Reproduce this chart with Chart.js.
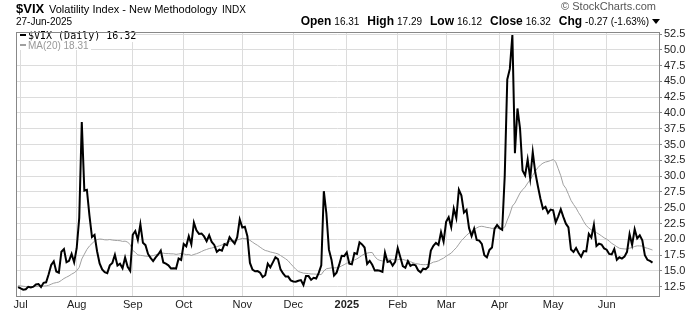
<!DOCTYPE html>
<html>
<head>
<meta charset="utf-8">
<script src="https://cdn.jsdelivr.net/npm/chart.js@4.4.1/dist/chart.umd.min.js"></script>
<style>
  body { margin: 0; background: #fff; }
  canvas { display: block; }
</style>
</head>
<body>
<canvas id="Chart1" width="700" height="312"></canvas>
<script>
// daily closes, Jun 28 2024 .. Jun 27 2025
const closes = [
    12.44,
    // Jul
    12.22, 12.03, 12.09, 12.48, 12.37, 12.51, 12.85, 12.91, 12.46, 13.12, 13.19,
    14.48, 15.93, 16.52, 14.91, 14.72, 18.04, 18.46, 16.39, 16.60, 17.69, 16.36,
    // Aug
    18.59, 23.39, 38.57, 27.71, 27.85, 23.79, 20.37, 20.71, 18.12, 16.19, 15.23,
    14.80, 14.65, 15.88, 16.27, 17.55, 15.86, 16.15, 15.43, 17.11, 15.65, 15.00,
    // Sep
    20.72, 21.32, 19.90, 22.38, 19.45, 19.08, 17.69, 17.07, 16.56, 17.14,
    17.61, 18.23, 16.33, 16.15, 15.89, 15.39, 15.41, 15.37, 16.96, 16.73,
    // Oct
    19.26, 18.90, 20.49, 19.21, 22.64, 21.42, 20.86, 20.93, 20.46, 19.70, 20.64, 19.58,
    19.11, 18.03, 18.37, 18.20, 19.24, 19.08, 20.33, 19.80, 19.34, 20.35, 23.16,
    // Nov
    21.88, 21.98, 20.49, 16.27, 15.20, 14.94, 14.97, 14.71, 14.02, 14.31,
    16.14, 15.58, 16.35, 17.16, 16.87, 15.24, 14.60, 14.10, 14.10, 13.51,
    // Dec
    13.34, 13.30, 13.45, 13.54, 12.77, 14.19, 14.18, 13.58, 13.92, 13.81, 14.69,
    15.87, 27.62, 24.09, 18.36, 16.78, 14.27, 14.73, 15.95, 17.40, 17.35,
    // Jan 2025
    17.93, 16.13, 16.04, 17.82, 17.70, 19.54, 19.19, 18.71, 16.12, 16.60,
    15.97, 15.06, 15.10, 15.02, 14.85, 17.90, 16.41, 16.56, 15.84, 16.43,
    // Feb
    18.62, 17.21, 15.77, 15.50, 16.54, 15.81, 16.02, 15.89, 15.10, 14.77,
    15.35, 15.27, 15.66, 18.21, 18.98, 19.43, 19.10, 21.13, 19.63,
    // Mar
    22.78, 23.51, 21.93, 24.87, 23.37, 27.86, 26.92, 24.23, 24.66, 21.77, 20.51,
    21.70, 19.90, 19.80, 19.28, 17.48, 17.15, 18.33, 18.69, 21.65, 22.28,
    // Apr
    21.77, 21.51, 30.02, 45.31, 46.98, 52.33, 33.62, 40.72, 37.56, 30.89, 30.12,
    32.64, 29.65, 33.82, 30.57, 28.45, 26.47, 24.84, 25.15, 24.17, 24.70,
    // May
    24.60, 22.68, 23.64, 24.76, 23.55, 22.48, 21.90, 18.39, 17.99, 18.62, 17.83,
    17.24, 18.14, 18.09, 20.87, 20.28, 22.29, 18.96, 19.31, 19.18, 18.57,
    // Jun
    18.36, 17.69, 17.61, 18.48, 16.77, 17.16, 16.95, 17.26, 18.02, 20.82,
    19.11, 21.60, 20.14, 20.62, 19.83, 17.48, 16.76, 16.59, 16.32
];

// closes before the visible window, only used to warm up the MA(20)
const priorCloses = [12.92, 13.11, 13.16, 12.63, 12.58, 12.22, 12.74, 12.85, 12.04, 11.94,
    12.66, 12.75, 12.30, 13.28, 13.20, 12.84, 12.84, 12.55, 12.24];

const monthStarts = [1, 23, 45, 65, 88, 108, 129, 149, 168, 189, 210, 231];
const monthLabels = ['Jul', 'Aug', 'Sep', 'Oct', 'Nov', 'Dec', '2025', 'Feb', 'Mar', 'Apr', 'May', 'Jun'];

const quoteDate = '27-Jun-2025';
const quoteLabels = ['Open', 'High', 'Low', 'Close', 'Chg'];
const quoteValues = ['16.31', '17.29', '16.12', '16.32', '-0.27 (-1.63%)'];

const MA_LEN = 20;
const FONT = '"Liberation Sans", Arial, sans-serif';

const all = priorCloses.concat(closes);
const maValues = closes.map((v, i) => {
    const end = i + priorCloses.length;
    let sum = 0;
    for (let k = end - MA_LEN + 1; k <= end; k++) sum += all[k];
    return sum / MA_LEN;
});

const vixPoints = closes.map((v, i) => ({ x: i, y: v }));
const maPoints = maValues.map((v, i) => ({ x: i, y: v }));

const framePlugin = {
    id: 'frame',
    afterDatasetsDraw(chart) {
        const { ctx, chartArea: a } = chart;
        ctx.save();
        // legend rows with white backing
        ctx.fillStyle = '#fff';
        ctx.fillRect(a.left + 1, a.top + 1, 117, 9);
        ctx.fillRect(a.left + 1, a.top + 10, 74, 8);

        ctx.lineWidth = 2;
        ctx.strokeStyle = '#000';
        ctx.beginPath(); ctx.moveTo(20, 35); ctx.lineTo(26, 35); ctx.stroke();
        ctx.strokeStyle = '#a0a0a0';
        ctx.beginPath(); ctx.moveTo(20, 45); ctx.lineTo(26, 45); ctx.stroke();

        ctx.textBaseline = 'alphabetic';
        ctx.textAlign = 'left';
        ctx.fillStyle = '#000';
        ctx.font = '10px "DejaVu Sans Mono", monospace';
        ctx.fillText('$VIX (Daily) ' + closes[closes.length - 1].toFixed(2), 28, 39);
        ctx.fillStyle = '#999';
        ctx.font = '10px ' + FONT;
        ctx.fillText('MA(20) ' + maValues[maValues.length - 1].toFixed(2), 28, 48.5);

        // outer frame
        ctx.strokeStyle = '#888';
        ctx.lineWidth = 1;
        ctx.strokeRect(Math.round(a.left) + 0.5, Math.round(a.top) + 0.5,
            Math.round(a.right - a.left), Math.round(a.bottom - a.top));
        ctx.restore();
    },
    afterDraw(chart) {
        const ctx = chart.ctx;
        ctx.save();
        ctx.textBaseline = 'alphabetic';
        ctx.fillStyle = '#000';
        ctx.textAlign = 'left';
        ctx.font = 'bold 13px ' + FONT;
        ctx.fillText('$VIX', 16, 13);
        ctx.font = '11px ' + FONT;
        ctx.fillText('Volatility Index - New Methodology', 49, 13);
        ctx.font = '10px ' + FONT;
        ctx.fillText('INDX', 222, 13);
        ctx.fillText(quoteDate, 16, 25);

        // quote line, right aligned to the arrow
        const boldFont = 'bold 12px ' + FONT;
        const valFont = '10px ' + FONT;
        let total = 11;
        quoteLabels.forEach((lab, i) => {
            ctx.font = boldFont; total += ctx.measureText(lab).width + 3;
            ctx.font = valFont; total += ctx.measureText(quoteValues[i]).width;
            if (i < quoteLabels.length - 1) total += 8;
        });
        let x = 660 - total;
        quoteLabels.forEach((lab, i) => {
            ctx.font = boldFont;
            ctx.fillText(lab, x, 25);
            x += ctx.measureText(lab).width + 3;
            ctx.font = valFont;
            ctx.fillText(quoteValues[i], x, 25);
            x += ctx.measureText(quoteValues[i]).width;
            if (i < quoteLabels.length - 1) x += 8;
        });
        // small down arrow
        ctx.beginPath();
        ctx.moveTo(x + 3, 19); ctx.lineTo(x + 11, 19); ctx.lineTo(x + 7, 24); ctx.closePath();
        ctx.fill();

        ctx.fillStyle = '#555';
        ctx.textAlign = 'right';
        ctx.font = '11px ' + FONT;
        ctx.fillText('\u00A9 StockCharts.com', 656, 10);
        ctx.restore();
    }
};

new Chart(document.getElementById('Chart1').getContext('2d'), {
    type: 'line',
    data: {
        datasets: [
            {
                label: '$VIX (Daily)',
                data: vixPoints,
                borderColor: '#000',
                borderWidth: 2,
                pointRadius: 0,
                tension: 0
            },
            {
                label: 'MA(20)',
                data: maPoints,
                borderColor: '#a0a0a0',
                borderWidth: 1,
                pointRadius: 0,
                tension: 0
            }
        ]
    },
    options: {
        responsive: false,
        animation: false,
        events: [],
        layout: { padding: { top: 32, left: 16, right: 0, bottom: 0 } },
        scales: {
            x: {
                type: 'linear',
                min: -0.82,
                max: 251.55,
                afterBuildTicks: (scale) => { scale.ticks = monthStarts.map(v => ({ value: v })); },
                afterFit: (scale) => { scale.height = 16; },
                grid: { color: '#dcdcdc', drawTicks: false },
                border: { display: false },
                ticks: {
                    autoSkip: false,
                    maxRotation: 0,
                    padding: 2,
                    color: '#222',
                    font: (c) => ({ family: FONT, size: 11, weight: (c.tick && c.tick.value === 129) ? 'bold' : 'normal' }),
                    callback: (value) => monthLabels[monthStarts.indexOf(value)]
                }
            },
            y: {
                position: 'right',
                min: 11.03,
                max: 52.82,
                afterFit: (scale) => { scale.width = 41; },
                grid: { color: '#dcdcdc', tickLength: 3, tickColor: '#888' },
                border: { display: false },
                ticks: {
                    stepSize: 2.5,
                    includeBounds: false,
                    padding: 2,
                    color: '#222',
                    font: { family: FONT, size: 11 },
                    callback: (v) => v.toFixed(1)
                }
            }
        },
        plugins: {
            legend: { display: false },
            tooltip: { enabled: false }
        }
    },
    plugins: [framePlugin]
});
</script>
</body>
</html>
